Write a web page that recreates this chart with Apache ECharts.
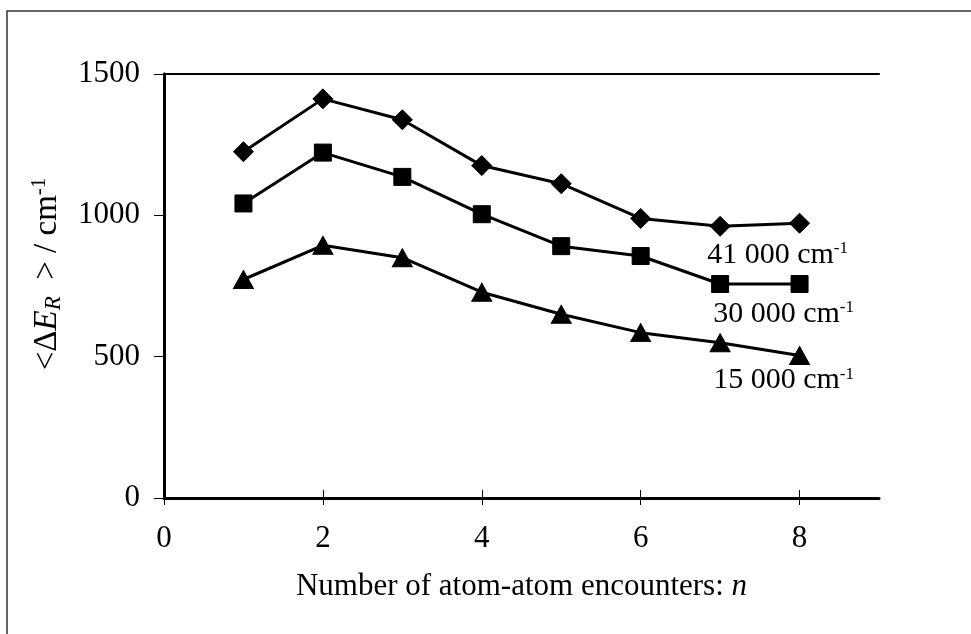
<!DOCTYPE html>
<html>
<head>
<meta charset="utf-8">
<script src="https://cdn.jsdelivr.net/npm/echarts@6/dist/echarts.min.js"></script>
<style>
  html, body { margin: 0; padding: 0; background: #fff; }
  #main { width: 971px; height: 634px; }
</style>
</head>
<body>
<div id="main"></div>
<script>
// number of encounters
var n = [1, 2, 3, 4, 5, 6, 7, 8];
// <dE_R> in cm-1 for each starting energy
var e41000 = [1225, 1412, 1338, 1176, 1112, 989, 961, 972];
var e30000 = [1042, 1222, 1136, 1004, 891, 856, 757, 757];
var e15000 = [773, 894, 850, 728, 650, 585, 549, 504];

var xTicks = [0, 2, 4, 6, 8];
var seriesNames = ['41 000', '30 000', '15 000'];

var font = 'Liberation Serif, Times New Roman, serif';

function pairs(ys) {
    return n.map(function (x, i) { return [x, ys[i]]; });
}

function makeSeries(name, ys, symbol, size, labelOffset) {
    var data = pairs(ys);
    // label for the curve hangs off the last point
    var last = data.length - 1;
    data[last] = {
        value: data[last],
        label: {
            show: true,
            position: 'inside',
            offset: labelOffset,
            formatter: name + ' cm{sup|-1}',
            color: '#000',
            fontFamily: font,
            fontSize: 30,
            rich: {
                sup: { fontSize: 17, fontFamily: font, color: '#000', verticalAlign: 'top', lineHeight: 30 }
            }
        }
    };
    return {
        name: name,
        type: 'line',
        xAxisIndex: 0,
        yAxisIndex: 0,
        data: data,
        symbol: symbol,
        symbolSize: size,
        showAllSymbol: true,
        lineStyle: { color: '#000', width: 3 },
        itemStyle: { color: '#000', borderColor: '#000' },
        emphasis: { disabled: true },
        z: 5
    };
}

var myChart = echarts.init(document.getElementById('main'));
myChart.setOption({
    animation: false,
    backgroundColor: '#fff',
    grid: [
        { left: 164, right: 92, top: 74, bottom: 136 },
        { left: 164, right: 92, top: 74, bottom: 136 }
    ],
    xAxis: [
        {
            type: 'value', gridIndex: 0, min: 0, max: 9, position: 'bottom',
            axisLine: { show: true, lineStyle: { color: '#000', width: 3 } },
            axisTick: { show: true, inside: false, length: 7, customValues: xTicks, lineStyle: { color: '#000', width: 1 } },
            axisLabel: { customValues: xTicks, margin: 25, color: '#000', fontFamily: font, fontSize: 31 },
            splitLine: { show: false },
            name: 'Number of atom-atom encounters: {i|n}',
            nameLocation: 'middle',
            nameGap: 73,
            nameTextStyle: {
                color: '#000', fontFamily: font, fontSize: 31,
                rich: { i: { fontStyle: 'italic', fontFamily: font, fontSize: 31, color: '#000' } }
            }
        },
        {
            // upward half of the crossing ticks
            type: 'value', gridIndex: 1, min: 0, max: 9, position: 'bottom',
            axisLine: { show: false },
            axisTick: { show: true, inside: true, length: 8, customValues: xTicks, lineStyle: { color: '#000', width: 1 } },
            axisLabel: { show: false },
            splitLine: { show: false }
        },
        {
            // top frame line
            type: 'value', gridIndex: 1, min: 0, max: 9, position: 'top',
            axisLine: { show: true, lineStyle: { color: '#000', width: 2 } },
            axisTick: { show: false }, axisLabel: { show: false }, splitLine: { show: false }
        }
    ],
    yAxis: [
        {
            type: 'value', gridIndex: 0, min: 0, max: 1500, interval: 500, position: 'left',
            axisLine: { show: true, lineStyle: { color: '#000', width: 3 } },
            axisTick: { show: true, inside: false, length: 10, lineStyle: { color: '#000', width: 1 } },
            axisLabel: {
                margin: 24, color: '#000', fontFamily: font, fontSize: 31,
                formatter: function (v) { return String(v); }
            },
            splitLine: { show: false }
        },
        {
            // right frame line
            type: 'value', gridIndex: 1, min: 0, max: 1500, position: 'right',
            axisLine: { show: true, lineStyle: { color: '#000', width: 3 } },
            axisTick: { show: false }, axisLabel: { show: false }, splitLine: { show: false }
        }
    ],
    graphic: [
        {
            type: 'rect',
            shape: { x: 7, y: 11, width: 1000, height: 700 },
            style: { fill: 'none', stroke: '#333', lineWidth: 1.5 },
            silent: true
        },
        {
            type: 'text',
            x: 47,
            y: 274,
            rotation: Math.PI / 2,
            style: {
                text: '<Δ{e|E}{sub|R}  > / cm{sup|-1}',
                fontFamily: font,
                fontSize: 33,
                fill: '#000',
                align: 'center',
                verticalAlign: 'middle',
                rich: {
                    e: { fontStyle: 'italic', fontFamily: font, fontSize: 33, fill: '#000', lineHeight: 36 },
                    sub: { fontStyle: 'italic', fontFamily: font, fontSize: 23, fill: '#000', verticalAlign: 'bottom', lineHeight: 22 },
                    sup: { fontFamily: font, fontSize: 21, fill: '#000', verticalAlign: 'top', lineHeight: 36 }
                }
            },
            silent: true
        }
    ],
    series: [
        makeSeries(seriesNames[0], e41000, 'diamond', [20, 20], [-22, 32]),
        makeSeries(seriesNames[1], e30000, 'rect', 17, [-16, 30]),
        makeSeries(seriesNames[2], e15000, 'triangle', [20, 18], [-16, 25])
    ]
});
</script>
</body>
</html>
